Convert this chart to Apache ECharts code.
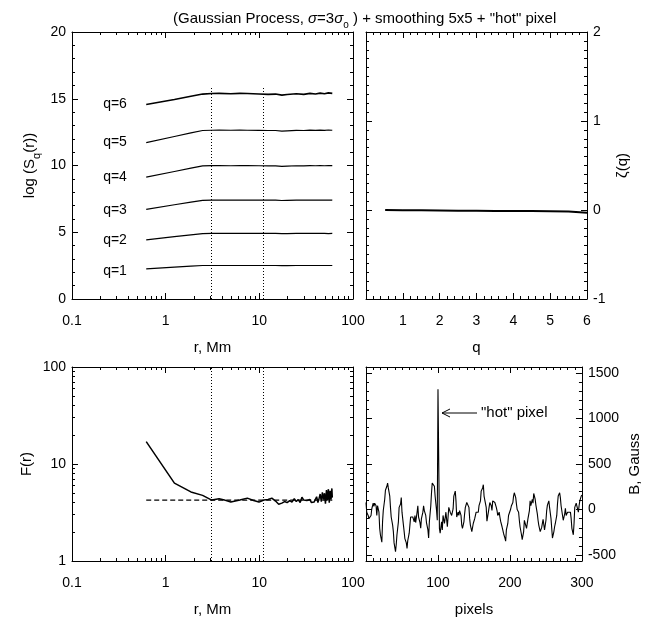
<!DOCTYPE html>
<html><head><meta charset="utf-8">
<script src="https://cdn.jsdelivr.net/npm/echarts@6.0.0/dist/echarts.min.js"></script>
<style>html,body{margin:0;padding:0;background:#fff}#c{width:648px;height:623px}</style>
</head><body><div id="c"></div>
<script>
// ---------- data ----------
const rS  = [0.62,1.24,1.86,2.48,3.1,3.72,4.96,6.2,7.44,9.92,12.4,14.9,17.4,19.8,24.8,29.8,34.7,39.7,44.6,49.6,54.6,60.1];
const sq1 = [2.26,2.39,2.46,2.51,2.51,2.51,2.51,2.51,2.51,2.51,2.51,2.51,2.50,2.50,2.51,2.51,2.51,2.51,2.51,2.51,2.51,2.51];
const sq2 = [4.43,4.67,4.81,4.90,4.91,4.91,4.91,4.91,4.91,4.91,4.91,4.91,4.89,4.90,4.91,4.91,4.91,4.91,4.91,4.91,4.90,4.91];
const sq3 = [6.72,7.06,7.26,7.39,7.40,7.41,7.41,7.41,7.41,7.40,7.40,7.40,7.38,7.39,7.40,7.40,7.41,7.40,7.41,7.40,7.41,7.40];
const sq4 = [9.13,9.55,9.80,9.97,9.99,9.99,9.98,9.99,9.99,9.98,9.97,9.97,9.94,9.96,9.98,9.97,9.99,9.98,9.99,9.98,10.00,9.99];
const sq5 = [11.71,12.17,12.44,12.62,12.64,12.65,12.64,12.65,12.64,12.63,12.62,12.62,12.57,12.60,12.63,12.62,12.65,12.63,12.65,12.63,12.66,12.64];
const sq6 = [14.57,14.95,15.19,15.35,15.39,15.40,15.38,15.40,15.39,15.36,15.33,15.35,15.27,15.32,15.37,15.33,15.40,15.36,15.42,15.38,15.44,15.40];
const qLabels = ['q=1','q=2','q=3','q=4','q=5','q=6'];
const rMarks = [3.07, 11.0];

const qZ   = [0.52,1,1.5,2,2.5,3,3.5,4,4.5,5,5.5,6];
const zeta = [0.0,-0.002,-0.004,-0.006,-0.008,-0.009,-0.010,-0.011,-0.012,-0.013,-0.016,-0.03];

const rF = [0.62,1.24,1.86,2.48,3.10,3.72,4.34,4.96,6.2,7.44,8.68,9.92,11.2,12.4,13.6,14.9,16.1,17.4,18.6,19.8,21.1,22.3,23.6,24.8,26.0,27.3,28.5,29.8,31.0,32.2,33.5,34.7,36.0,37.2,38.4,39.7,40.9,42.2,43.4,44.6,45.9,47.1,48.4,49.6,50.8,52.1,53.3,54.6,55.8,57.0,58.3,59.5,60.1];
const fR = [17.0,6.35,5.15,4.75,4.25,4.38,4.22,4.05,4.25,4.45,4.2,4.05,4.25,4.3,4.45,4.15,3.85,3.95,4.1,4.0,4.2,4.05,4.4,4.1,4.3,4.0,4.55,4.25,4.4,4.2,4.05,4.3,4.0,4.15,4.05,4.2,4.6,4.0,4.4,4.9,4.1,5.1,4.3,5.0,3.9,5.4,4.2,5.5,4.0,5.3,4.3,5.6,4.5];
const rDash = [0.62, 60.1];
const fDash = [4.25, 4.25];

const pixels = [0,1,3,4,5,7,8,10,11,12,14,15,16,18,19,20,22,23,24,26,27,29,30,31,33,34,35,37,38,39,
41,42,43,45,46,48,49,50,52,53,54,56,57,58,60,61,62,64,65,67,68,69,71,72,73,75,76,77,79,80,
81,83,84,86,87,88,90,91,92,94,95,96,98,99,100,102,103,105,106,107,109,110,111,113,114,115,117,118,119,121,
122,124,125,126,128,129,130,132,133,134,136,137,138,140,141,143,144,145,147,148,149,151,152,153,155,156,157,159,160,162,
163,164,166,167,168,170,171,172,174,175,176,178,179,181,182,183,185,186,187,189,190,191,193,194,195,197,198,200,201,202,
204,205,206,208,209,210,212,213,214,216,217,219,220,221,223,224,225,227,228,229,231,232,233,235,236,238,239,240,242,243,
244,246,247,248,250,251,252,254,255,257,258,259,261,262,263,265,266,267,269,270,271,273,274,276,277,278,280,281,282,284,
285,286,288,289,290,292,293,295,296,297,299,300];
const bGauss = [77,-29,-65,-100,-82,-65,6,70,35,70,
42,-65,42,-29,-206,-277,-359,-135,-11,113,
212,255,290,237,148,24,-82,-171,-242,-366,
-462,-384,-277,-135,24,60,131,-29,-171,-242,
-320,-366,-426,-341,-260,-171,-82,-100,-82,-135,
-65,-143,-29,42,-82,-143,-206,-100,-29,42,
-11,-65,-143,-224,-313,-135,42,184,290,308,
255,148,-11,-118,
1320,
-206,-260,-135,-224,-65,-153,-171,-29,-189,-82,
24,-29,-11,-65,6,148,202,95,-82,-29,
-65,-11,-65,-171,-206,-135,-47,24,77,84,
24,-100,-171,-242,-224,-153,-100,-65,-29,-47,
-29,42,95,202,237,273,148,166,24,-128,
-29,24,77,42,-11,95,106,77,24,-11,
-65,-29,-82,-128,-189,-224,-260,-313,-348,-224,
-153,-65,-82,6,42,77,148,
184,131,60,0,-29,-118,-189,-277,-331,-242,
-118,-128,-206,-206,-100,-11,95,42,113,70,
177,113,49,-47,-118,-171,-242,-242,-199,-107,
-128,-224,-118,-11,49,95,24,-100,-206,-313,
-242,-189,-153,-65,60,148,184,131,42,-65,
-118,-47,14,-65,-29,-47,-11,-29,-100,-206,
-277,-153,24,70,60,-29,42,95,148,
160];

// tick marks / labels
const rTicks = [0.1, 1, 10, 100];
const rMinor = [0.2,0.3,0.4,0.5,0.6,0.7,0.8,0.9,2,3,4,5,6,7,8,9,20,30,40,50,60,70,80,90];
const sqTicks = [0, 5, 10, 15, 20];
const sqMinor = [1,2,3,4,6,7,8,9,11,12,13,14,16,17,18,19];
const qTicks = [1, 2, 3, 4, 5, 6];
const qMinor = [0.2,0.4,0.6,0.8,1.2,1.4,1.6,1.8,2.2,2.4,2.6,2.8,3.2,3.4,3.6,3.8,4.2,4.4,4.6,4.8,5.2,5.4,5.6,5.8];
const zTicks = [-1, 0, 1, 2];
const zMinor = [-0.9,-0.8,-0.7,-0.6,-0.5,-0.4,-0.3,-0.2,-0.1,0.1,0.2,0.3,0.4,0.5,0.6,0.7,0.8,0.9,1.1,1.2,1.3,1.4,1.5,1.6,1.7,1.8,1.9];
const fTicks = [1, 10, 100];
const fMinor = [2,3,4,5,6,7,8,9,20,30,40,50,60,70,80,90];
const pTicks = [100, 200, 300];
const pMinor = [10,20,30,40,50,60,70,80,90,110,120,130,140,150,160,170,180,190,210,220,230,240,250,260,270,280,290];
const bTicks = [-500, 0, 500, 1000, 1500];
const bMinor = [-400,-300,-200,-100,100,200,300,400,600,700,800,900,1100,1200,1300,1400];

// ---------- styling ----------
const FONT = '"Liberation Sans", Arial, Helvetica, sans-serif';
const K = '#000';
const grids = [
  {left: 72, top: 32, width: 281, height: 267},
  {left: 366, top: 32, width: 221, height: 267},
  {left: 72, top: 367, width: 281, height: 200},
  {left: 366, top: 367, width: 221, height: 200}
];

function axisPair(grid, pos, type, min, max, major, minor, opts) {
  opts = opts || {};
  const common = {type: type, gridIndex: grid, position: pos, min: min, max: max,
    splitLine: {show: false}, minorTick: {show: false}, minorSplitLine: {show: false}, silent: true};
  if (type === 'log') common.logBase = 10;
  const majorAx = Object.assign({}, common, {
    axisLine: {show: true, onZero: false, lineStyle: {color: K, width: 1}},
    axisTick: {show: true, inside: true, length: 6, customValues: major, lineStyle: {color: K, width: 1}},
    axisLabel: opts.labels ? {show: true, customValues: opts.labels, margin: opts.margin, color: K,
      fontSize: 14, fontFamily: FONT, formatter: function (v) { return String(v); }} : {show: false}
  });
  if (opts.name) {
    majorAx.name = opts.name;
    majorAx.nameLocation = 'middle';
    majorAx.nameGap = opts.nameGap;
    if (opts.nameRotate !== undefined) majorAx.nameRotate = opts.nameRotate;
    majorAx.nameTextStyle = {color: K, fontSize: 15, fontFamily: FONT, lineHeight: 24,
      rich: {s: {fontSize: 11, fontFamily: FONT, color: K, verticalAlign: 'bottom', lineHeight: 24}}};
  }
  const minorAx = Object.assign({}, common, {
    axisLine: {show: false, onZero: false},
    axisTick: {show: true, inside: true, length: 3, customValues: minor, lineStyle: {color: K, width: 1}},
    axisLabel: {show: false}
  });
  return [majorAx, minorAx];
}

const xAxes = [].concat(
  axisPair(0, 'bottom', 'log', 0.1, 100, rTicks, rMinor, {labels: rTicks, margin: 15, name: 'r, Mm', nameGap: 37}), // 0,1
  axisPair(0, 'top', 'log', 0.1, 100, rTicks, rMinor),                                                             // 2,3
  axisPair(1, 'bottom', 'value', 0, 6, qTicks, qMinor, {labels: qTicks, margin: 15, name: 'q', nameGap: 37}),       // 4,5
  axisPair(1, 'top', 'value', 0, 6, qTicks, qMinor),                                                              // 6,7
  axisPair(2, 'bottom', 'log', 0.1, 100, rTicks, rMinor, {labels: rTicks, margin: 15, name: 'r, Mm', nameGap: 37}), // 8,9
  axisPair(2, 'top', 'log', 0.1, 100, rTicks, rMinor),                                                             // 10,11
  axisPair(3, 'bottom', 'value', 0, 300, pTicks, pMinor, {labels: pTicks, margin: 15, name: 'pixels', nameGap: 37}), // 12,13
  axisPair(3, 'top', 'value', 0, 300, pTicks, pMinor)                                                               // 14,15
);
const yAxes = [].concat(
  axisPair(0, 'left', 'value', 0, 20, sqTicks, sqMinor, {labels: sqTicks, margin: 6, name: 'log (S{s|q}(r))', nameGap: 30, nameRotate: 90}), // 0,1
  axisPair(0, 'right', 'value', 0, 20, sqTicks, sqMinor),                                                     // 2,3
  axisPair(1, 'right', 'value', -1, 2, zTicks, zMinor, {labels: zTicks, margin: 6, name: 'ζ(q)', nameGap: 24, nameRotate: 90}), // 4,5
  axisPair(1, 'left', 'value', -1, 2, zTicks, zMinor),                                                        // 6,7
  axisPair(2, 'left', 'log', 1, 100, fTicks, fMinor, {labels: fTicks, margin: 6, name: 'F(r)', nameGap: 30, nameRotate: 90}), // 8,9
  axisPair(2, 'right', 'log', 1, 100, fTicks, fMinor),                                                        // 10,11
  axisPair(3, 'right', 'value', -565, 1565, bTicks, bMinor, {labels: bTicks, margin: 6, name: 'B, Gauss', nameGap: 40, nameRotate: 90}), // 12,13
  axisPair(3, 'left', 'value', -565, 1565, bTicks, bMinor)                                                    // 14,15
);

function zip(a, b) { return a.map(function (v, i) { return [v, b[i]]; }); }
function lineSeries(xi, yi, data, width, extra) {
  return Object.assign({type: 'line', xAxisIndex: xi, yAxisIndex: yi, data: data, showSymbol: false,
    symbol: 'none', silent: true, animation: false, clip: true,
    lineStyle: {color: K, width: width}}, extra || {});
}

const sqAll = [sq1, sq2, sq3, sq4, sq5, sq6];
const series = sqAll.map(function (s, i) { return lineSeries(0, 0, zip(rS, s), i === 5 ? 1.6 : 1.2); });
series[5].markLine = {silent: true, symbol: ['none', 'none'], label: {show: false},
  lineStyle: {color: K, width: 1, type: [1, 2]},
  data: rMarks.map(function (r) { return [{coord: [r, 0]}, {coord: [r, 15.9]}]; })};
series.push(lineSeries(4, 4, zip(qZ, zeta), 2));
series.push(lineSeries(8, 8, zip(rF, fR), 1.5, {
  markLine: {silent: true, symbol: ['none', 'none'], label: {show: false},
    lineStyle: {color: K, width: 1, type: [1, 2]},
    data: rMarks.map(function (r) { return {xAxis: r}; })}
}));
series.push(lineSeries(8, 8, zip(rDash, fDash), 1.2, {lineStyle: {color: K, width: 1.2, type: [5, 3]}}));
series.push(lineSeries(12, 12, zip(pixels, bGauss), 1.1));

const TXT = '14px "Liberation Sans", Arial, sans-serif';
const qLabelY = [271, 240, 210, 177, 142, 104];
const graphic = qLabels.map(function (t, i) {
  return {type: 'text', silent: true, style: {text: t, x: 115, y: qLabelY[i], align: 'center', verticalAlign: 'middle', font: TXT, fill: K}};
});
graphic.push({type: 'line', silent: true, shape: {x1: 442, y1: 413, x2: 477, y2: 413}, style: {stroke: K, lineWidth: 1}});
graphic.push({type: 'polyline', silent: true, shape: {points: [[450, 409], [442, 413], [450, 417]]}, style: {stroke: K, lineWidth: 1, fill: null}});
graphic.push({type: 'text', silent: true, style: {text: '"hot" pixel', x: 481, y: 413, align: 'left', verticalAlign: 'middle', font: '15px "Liberation Sans", Arial, sans-serif', fill: K}});

const chart = echarts.init(document.getElementById('c'), null, {renderer: 'canvas'});
chart.setOption({
  backgroundColor: '#fff',
  animation: false,
  title: {
    text: '(Gaussian Process, {g|σ}=3{g|σ}{s|o} ) + smoothing 5x5 + "hot" pixel',
    left: 168, top: 3,
    textStyle: {fontSize: 15, fontWeight: 'normal', color: K, fontFamily: FONT, lineHeight: 22,
      rich: {g: {fontStyle: 'italic', fontSize: 15, fontFamily: FONT, color: K, lineHeight: 22},
             s: {fontSize: 10, fontFamily: FONT, color: K, verticalAlign: 'bottom', lineHeight: 22}}}
  },
  grid: grids,
  xAxis: xAxes,
  yAxis: yAxes,
  series: series,
  graphic: graphic
});
</script></body></html>
